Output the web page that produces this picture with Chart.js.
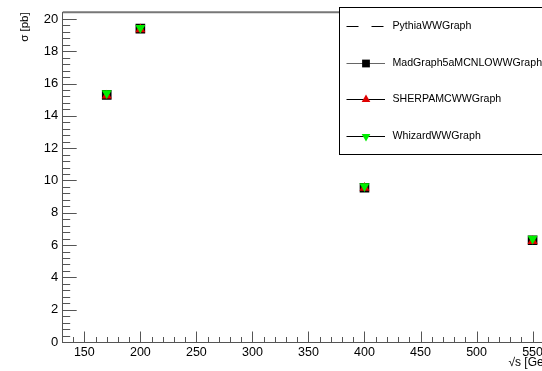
<!DOCTYPE html>
<html><head><meta charset="utf-8">
<script src="https://cdn.jsdelivr.net/npm/chart.js@4"></script>
<style>
html,body{margin:0;padding:0;width:542px;height:371px;overflow:hidden;background:#fff}
#wrap{position:relative;width:600px;height:371px}
</style>
</head><body><div id="wrap"><canvas id="c" width="600" height="371"></canvas></div>
<script>
// ---- data ----
const energies = [170, 200, 400, 550];
const pythiaXsec = [15.3, 19.4, 9.6, 6.3];
const madgraphXsec = [15.3, 19.4, 9.55, 6.3];
const sherpaXsec = [15.25, 19.35, 9.55, 6.25];
const whizardXsec = [15.4, 19.45, 9.65, 6.4];
const seriesNames = ['PythiaWWGraph', 'MadGraph5aMCNLOWWGraph', 'SHERPAMCWWGraph', 'WhizardWWGraph'];
const xTickValues = [150, 200, 250, 300, 350, 400, 450, 500, 550];
const yTickValues = [0, 2, 4, 6, 8, 10, 12, 14, 16, 18, 20];
const xTitle = '\u221As [GeV]';
const yTitle = '\u03C3 [pb]';

const FONT = '"Liberation Sans", Arial, Helvetica, sans-serif';
const AXIS_COLOR = '#555';

function pts(ys) { return energies.map((x, i) => ({x: x, y: ys[i]})); }

const tickPlugin = {
  id: 'rootTicks',
  beforeDatasetsDraw(chart) {
    const {ctx, chartArea: a, scales: {x, y}} = chart;
    ctx.save();
    ctx.strokeStyle = AXIS_COLOR;
    ctx.lineWidth = 1;
    ctx.beginPath();
    for (let i = 0; i <= 51; i++) {
      const v = i * 0.4;
      if (v > y.max) break;
      const py = Math.round(y.getPixelForValue(v)) + 0.5;
      const len = (i % 5 === 0) ? 14 : 7.5;
      ctx.moveTo(a.left, py); ctx.lineTo(a.left + len, py);
    }
    for (let v = 140; v <= x.max; v += 10) {
      const px = Math.round(x.getPixelForValue(v)) + 0.5;
      const len = (v % 50 === 0) ? 10.5 : 5;
      ctx.moveTo(px, a.bottom); ctx.lineTo(px, a.bottom - len);
    }
    ctx.stroke();
    ctx.lineWidth = 2;
    ctx.strokeStyle = '#777';
    ctx.beginPath();
    ctx.moveTo(a.left, a.top); ctx.lineTo(a.right, a.top);
    ctx.stroke();
    ctx.restore();
  }
};

function drawMarker(ctx, type, color, cx, cy, r) {
  ctx.fillStyle = color;
  ctx.beginPath();
  if (type === 'rect') {
    const s = r * Math.SQRT1_2;
    ctx.rect(cx - s, cy - s, 2 * s, 2 * s);
  } else if (type === 'up') {
    ctx.moveTo(cx, cy - r);
    ctx.lineTo(cx + r * 0.866, cy + r * 0.5);
    ctx.lineTo(cx - r * 0.866, cy + r * 0.5);
    ctx.closePath();
  } else if (type === 'down') {
    ctx.moveTo(cx, cy + r);
    ctx.lineTo(cx + r * 0.866, cy - r * 0.5);
    ctx.lineTo(cx - r * 0.866, cy - r * 0.5);
    ctx.closePath();
  }
  ctx.fill();
}

const legendPlugin = {
  id: 'rootLegend',
  afterDraw(chart) {
    const {ctx} = chart;
    const L = 339.5, T = 7.5, R = 598, B = 154.5;
    ctx.save();
    ctx.fillStyle = '#fff';
    ctx.fillRect(L, T, R - L, B - T);
    ctx.strokeStyle = '#000';
    ctx.lineWidth = 1;
    ctx.strokeRect(L, T, R - L, B - T);
    const rowH = (B - T) / 4;
    const styles = [
      {line: '#000', dash: [12, 13], marker: null},
      {line: '#666', dash: [], marker: 'rect', color: '#000'},
      {line: '#000', dash: [], marker: 'up', color: '#e00000'},
      {line: '#000', dash: [], marker: 'down', color: '#00ee00'}
    ];
    ctx.font = '10.6px ' + FONT;
    ctx.textBaseline = 'middle';
    ctx.textAlign = 'left';
    seriesNames.forEach((name, i) => {
      const cy = Math.round(T + rowH * (i + 0.5)) + 0.5;
      const st = styles[i];
      ctx.strokeStyle = st.line;
      ctx.setLineDash(st.dash);
      ctx.beginPath();
      ctx.moveTo(346.5, cy); ctx.lineTo(385, cy);
      ctx.stroke();
      ctx.setLineDash([]);
      if (st.marker) drawMarker(ctx, st.marker, st.color, 366, cy, st.marker === 'rect' ? 5.5 : 5);
      ctx.fillStyle = '#000';
      ctx.fillText(name, 392.5, cy);
    });
    ctx.restore();
  }
};

const chart = new Chart(document.getElementById('c'), {
  type: 'scatter',
  data: {
    datasets: [
      {label: seriesNames[0], data: pts(pythiaXsec), pointStyle: 'circle', pointRadius: 0.6,
       backgroundColor: '#000', borderColor: '#000', borderWidth: 0, order: 3},
      {label: seriesNames[1], data: pts(madgraphXsec), pointStyle: 'rect', pointRadius: 6.8,
       backgroundColor: '#000', borderColor: '#000', borderWidth: 0, order: 2},
      {label: seriesNames[2], data: pts(sherpaXsec), pointStyle: 'triangle', pointRadius: 5.8,
       backgroundColor: '#e00000', borderColor: '#e00000', borderWidth: 0, order: 1},
      {label: seriesNames[3], data: pts(whizardXsec), pointStyle: 'triangle', pointRotation: 180, pointRadius: 5.8,
       backgroundColor: '#00ee00', borderColor: '#00ee00', borderWidth: 0, order: 0}
    ]
  },
  options: {
    responsive: false,
    animation: false,
    devicePixelRatio: 1,
    layout: {padding: {top: 8, right: 45, left: 0, bottom: 0}},
    plugins: {legend: {display: false}, tooltip: {enabled: false}},
    scales: {
      x: {
        type: 'linear', min: 130.7, max: 570,
        afterBuildTicks(s) { s.ticks = xTickValues.map(v => ({value: v})); },
        afterFit(s) { s.height = 29; },
        grid: {display: false, drawTicks: false, tickLength: 0},
        border: {display: true, color: AXIS_COLOR, width: 1},
        ticks: {color: '#000', padding: 3, maxRotation: 0, autoSkip: false,
                font: {family: FONT, size: 12.5}},
        title: {display: true, text: xTitle, align: 'end', color: '#000',
                font: {family: FONT, size: 12}, padding: {top: 0, bottom: 0.8}}
      },
      y: {
        type: 'linear', min: 0, max: 20.41,
        afterBuildTicks(s) { s.ticks = yTickValues.map(v => ({value: v})); },
        afterFit(s) { s.width = 62.7; },
        grid: {display: false, drawTicks: false, tickLength: 0},
        border: {display: true, color: AXIS_COLOR, width: 1},
        ticks: {color: '#000', padding: 4.5, autoSkip: false,
                font: {family: FONT, size: 13}},
        title: {display: true, text: yTitle, align: 'end', color: '#000',
                font: {family: FONT, size: 11.5}, padding: {top: 18, bottom: 0}}
      }
    }
  },
  plugins: [tickPlugin, legendPlugin]
});
</script>
</body></html>
